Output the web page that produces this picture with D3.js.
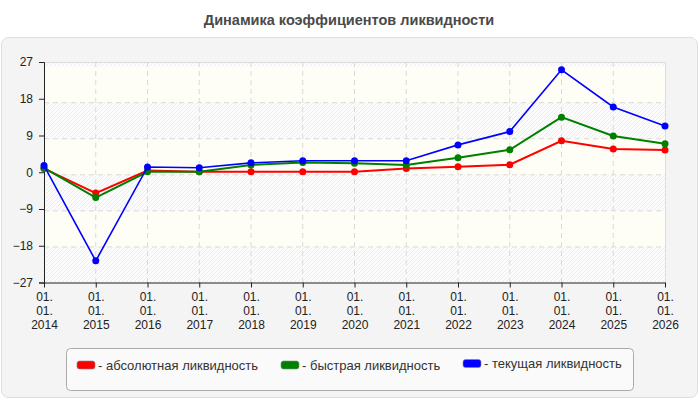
<!DOCTYPE html>
<html>
<head>
<meta charset="utf-8">
<script src="https://cdn.jsdelivr.net/npm/d3@7"></script>
<style>
  body { margin: 0; background: #fff; }
  text { font-family: "Liberation Sans", Arial, sans-serif; }
</style>
</head>
<body>
<svg id="chart" width="700" height="400"></svg>
<script>
var years = ["2014","2015","2016","2017","2018","2019","2020","2021","2022","2023","2024","2025","2026"]
var absolute = [0.9, -5.1, 0.4, 0.1, 0.1, 0.1, 0.1, 0.9, 1.35, 1.85, 7.7, 5.7, 5.45]
var quick = [1.05, -6.2, 0.1, 0.1, 1.8, 2.4, 2.2, 1.8, 3.55, 5.5, 13.5, 8.9, 7.0]
var current = [1.65, -21.7, 1.3, 1.1, 2.3, 2.8, 2.8, 2.8, 6.7, 9.95, 25.1, 16.0, 11.3]
var yTicks = [27, 18, 9, 0, -9, -18, -27]
var seriesNames = ["- абсолютная ликвидность", "- быстрая ликвидность", "- текущая ликвидность"]
var seriesColors = ["#ff0000", "#008000", "#0000ff"]

var svg = d3.select("#chart")
var plotLeft = 44, plotRight = 665, plotTop = 62, plotBottom = 282.5

// panel
svg.append("rect").attr("x", 1.5).attr("y", 37.5).attr("width", 696).attr("height", 360)
    .attr("rx", 7).attr("fill", "#f4f4f4").attr("stroke", "#dedede")

svg.append("text").attr("x", 349).attr("y", 25).attr("text-anchor", "middle")
    .attr("font-size", 14.5).attr("font-weight", "bold").attr("fill", "#4a4a4a")
    .text("Динамика коэффициентов ликвидности")

var scaleX = d3.scalePoint().domain(years).range([plotLeft, plotRight])
var scaleY = d3.scaleLinear().domain([-27, 27]).range([plotBottom, plotTop])
// the grid of the original sits a few pixels lower than the ticks
var gridY = d3.scaleLinear().domain([-27, 27]).range([283, 66.6])

var defs = svg.append("defs")
var pat = defs.append("pattern").attr("id", "hatch").attr("patternUnits", "userSpaceOnUse")
    .attr("width", 4).attr("height", 4)
pat.append("rect").attr("width", 4).attr("height", 4).attr("fill", "#fcfcfc")
pat.append("path").attr("d", "M-1,1 l2,-2 M0,4 l4,-4 M3,5 l2,-2").attr("stroke", "#ededed").attr("stroke-width", 1)

svg.append("rect").attr("x", plotLeft).attr("y", plotTop)
    .attr("width", plotRight - plotLeft).attr("height", plotBottom - plotTop)
    .attr("fill", "url(#hatch)")

var plainBands = [[27, 18], [9, 0], [-9, -18]]
svg.selectAll(".band").data(plainBands).enter().append("rect")
    .attr("x", plotLeft).attr("width", plotRight - plotLeft)
    .attr("y", d => gridY(d[0]))
    .attr("height", d => gridY(d[1]) - gridY(d[0]))
    .attr("fill", "#fefef7")

// grid
svg.selectAll(".hgrid").data(yTicks.filter(d => d > -27 && d < 27)).enter().append("line")
    .attr("x1", plotLeft).attr("x2", plotRight)
    .attr("y1", d => gridY(d)).attr("y2", d => gridY(d))
    .attr("stroke", "#d9d9d9").attr("stroke-dasharray", "5,4")
svg.selectAll(".vgrid").data(years.slice(1, -1)).enter().append("line")
    .attr("x1", d => scaleX(d)).attr("x2", d => scaleX(d))
    .attr("y1", plotTop).attr("y2", plotBottom)
    .attr("stroke", "#d9d9d9").attr("stroke-dasharray", "5,4")
svg.append("path").attr("d", "M" + plotLeft + "," + (plotTop + 0.5) + "H" + (plotRight + 0.5) + "V" + plotBottom)
    .attr("fill", "none").attr("stroke", "#dddddd")

// axes
var axisY = d3.axisLeft(scaleY).tickValues(yTicks).tickSize(5).tickPadding(6).tickFormat(d3.format("d"))
var gy = svg.append("g").attr("transform", "translate(" + plotLeft + ",0)").call(axisY)
gy.select(".domain").attr("stroke", "#222")
gy.selectAll("line").attr("stroke", "#222")
gy.selectAll("text").attr("font-size", 12).attr("fill", "#222").attr("font-family", "Liberation Sans, Arial, sans-serif")

var axisX = d3.axisBottom(scaleX).tickSize(5).tickSizeOuter(0).tickFormat("")
var gx = svg.append("g").attr("transform", "translate(0," + plotBottom + ")").call(axisX)
gx.select(".domain").attr("stroke", "#222")
gx.selectAll("line").attr("stroke", "#222")
gx.selectAll(".tick").append("text")
    .attr("fill", "#222").attr("font-size", 12).attr("text-anchor", "middle")
    .attr("font-family", "Liberation Sans, Arial, sans-serif")
    .each(function(d) {
        var t = d3.select(this)
        t.append("tspan").attr("x", 0).attr("y", 18).text("01.")
        t.append("tspan").attr("x", 0).attr("y", 32).text("01.")
        t.append("tspan").attr("x", 0).attr("y", 46).text(d)
    })

// series
var allSeries = [absolute, quick, current]
var line = d3.line().x((d, i) => scaleX(years[i])).y(d => scaleY(d))
allSeries.forEach(function(values, k) {
    svg.append("path").datum(values).attr("d", line)
        .attr("fill", "none").attr("stroke", seriesColors[k]).attr("stroke-width", k == 2 ? 1.6 : 2)
    svg.selectAll(".dot" + k).data(values).enter().append("circle")
        .attr("cx", (d, i) => scaleX(years[i])).attr("cy", d => scaleY(d))
        .attr("r", 3.5).attr("fill", seriesColors[k])
})

// legend
svg.append("rect").attr("x", 66.5).attr("y", 348.5).attr("width", 567).attr("height", 42)
    .attr("rx", 4).attr("fill", "#fafafa").attr("stroke", "#aaaaaa")
var legendX = [77, 281, 463]
var legendY = [361, 361, 359.5]
var lg = svg.selectAll(".leg").data(seriesNames).enter().append("g")
    .attr("transform", (d, i) => "translate(" + legendX[i] + "," + legendY[i] + ")")
lg.append("rect").attr("width", 18).attr("height", 8).attr("rx", 2.5)
    .attr("fill", (d, i) => seriesColors[i]).attr("stroke", "#888").attr("stroke-width", 0.6)
lg.append("text").attr("x", 21).attr("y", 8.5).attr("font-size", 13).attr("fill", "#333").text(d => d)
</script>
</body>
</html>
